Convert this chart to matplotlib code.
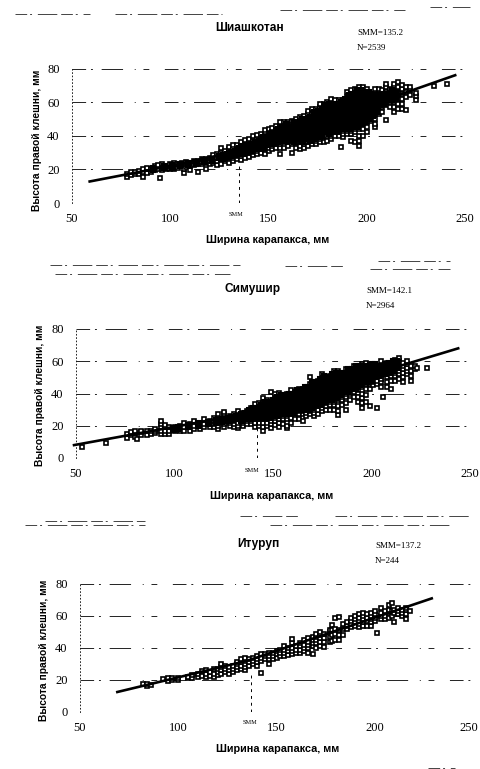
import matplotlib
matplotlib.use("Agg")
import matplotlib.pyplot as plt
from matplotlib.lines import Line2D
from matplotlib.transforms import ScaledTranslation

W, H = 480, 769

tick_x = [50, 100, 150, 200, 250]
tick_y = [0, 20, 40, 60, 80]
xlabel_text = "Ширина карапакса, мм"
ylabel_text = "Высота правой клешни, мм"

# values: (carapace width, [claw heights at that width])
shia_cols = [
    (78, [15.5, 17]), (80, [16.5, 18.5]), (82, [17, 18.5]), (84, [17.5, 19]),
    (86, [15.5, 18.5, 20]), (88, [18, 20, 21]), (90, [18.5, 20.5]), (92, [19.5, 21, 22]),
    (94, [20, 22.5]), (95, [15]), (96, [19.5, 21, 23]), (98, [20, 22]), (100, [20.5, 22, 23]),
    (102, [20, 21.5, 23.5]), (104, [21, 23]), (106, [22, 24]), (107, [18, 20]),
    (108, [21.5, 23, 24.5]), (110, [19.5, 22, 24]), (112, [22.5, 25]), (114, [18.5, 23, 25]),
    (116, [23, 24.5, 26]), (118, [20, 24, 26]), (120, [23, 25, 27]), (122, [24, 26, 28.5]),
    (124, [22.5, 25, 27, 29]), (126, [23, 26, 28, 30, 32.5]), (128, [25, 27, 29, 31]),
    (130, [24, 26.5, 28, 30, 32, 33.5]), (132, [25, 27, 29, 31, 33, 34.5]),
    (134, [26, 28, 30, 32, 34.5]), (136, [25.5, 28, 30, 32, 34, 36]),
    (138, [27, 29, 31, 33, 35, 37.5]), (140, [27.5, 29.5, 32, 34, 36, 38]),
    (142, [28.5, 30.5, 33, 35, 37, 40]), (144, [29, 31, 33, 35.5, 38, 40.5]),
    (146, [30, 32, 34, 36, 38, 41]), (148, [29, 32, 34, 36, 38, 40, 43.5]),
    (150, [31, 33, 35, 37, 39, 41, 44]), (152, [32, 34, 36, 38, 40, 42, 44.5]),
    (154, [33, 35, 37, 39, 41, 43, 46]), (156, [29, 33, 35, 37, 39, 41, 43, 45, 48]),
    (158, [33, 36, 38, 40, 42, 44, 46, 48]), (160, [34, 36, 38, 40, 42, 44, 46, 48]),
    (162, [30, 35, 37, 39, 41, 43, 45, 47, 49]), (164, [33, 35.5, 38, 40, 42, 44, 46, 48, 50]),
    (166, [32, 34, 37, 39, 41, 43, 45, 47, 49, 51]), (168, [32.5, 35, 37, 39, 41, 43, 45, 47, 49, 52]),
    (170, [34, 36, 38, 40, 42, 44, 46, 48, 50, 53, 55]),
    (172, [35, 37, 39, 41, 43, 45, 47, 49, 51, 53, 56]),
    (174, [35, 37, 40, 42, 44, 46, 48, 50, 52, 54, 56]),
    (176, [36, 38, 40, 43, 45, 47, 49, 51, 53, 55, 57, 59]),
    (178, [36, 39, 41, 43, 45, 47, 49, 51, 53, 55, 57, 59]),
    (180, [37, 40, 42, 44, 46, 48, 50, 52, 54, 56, 58, 60]),
    (182, [38, 40, 42, 44, 46, 48, 50, 52, 54, 56, 58, 60, 62]),
    (184, [40, 42, 44, 46, 48, 50, 52, 54, 56, 58, 60, 61]),
    (186, [40, 42, 44, 46, 48, 50, 52, 54, 56, 58, 60, 61]),
    (187, [33.5]),
    (188, [39, 41, 43, 45, 47, 49, 51, 53, 55, 57, 59, 61]),
    (190, [41, 43, 45, 47, 49, 51, 53, 55, 57, 59, 61, 63, 66]),
    (192, [37, 41, 43, 46, 48, 50, 52, 54, 56, 58, 60, 62, 64, 67]),
    (194, [36, 42, 44, 46, 48, 50, 52, 54, 56, 58, 60, 62, 64, 66, 68]),
    (196, [34, 37, 40, 44, 46, 48, 50, 52, 54, 56, 58, 60, 62, 64, 66, 69]),
    (198, [40, 44, 47, 49, 51, 53, 55, 57, 59, 61, 63, 65, 67, 69]),
    (200, [42, 45, 48, 50, 52, 54, 56, 58, 60, 62, 64, 66, 68]),
    (202, [49, 51, 53, 55, 57, 59, 61, 63, 65]),
    (204, [45, 47, 50, 53, 55, 57, 59, 61, 63, 65, 68]),
    (206, [53, 55, 57, 59, 61, 63, 65, 68]),
    (208, [54, 57, 59, 61, 63, 65, 67]),
    (210, [49.5, 58, 60, 62, 64, 66, 69, 71]),
    (212, [57, 60, 62, 64, 66, 68]),
    (214, [54, 57, 60, 63, 65, 67, 69, 71]),
    (216, [56, 59, 62, 64, 66, 69, 72]),
    (218, [56, 59, 62, 65, 68, 70]),
    (220, [55.5, 63, 66, 69]),
    (222, [64, 67, 69]),
    (225, [61.5, 63.5, 65.5]),
    (234, [69.5]), (241, [71]),
]
# second reading of the dense core, between the columns above
shia_core = [
    (91, [19.5, 20.8]), (97, [20.6, 22]), (101, [21, 22.4]), (105, [21.8, 23.2]), (109, [22.5, 23.8]),
    (113, [23.4, 24.6]), (117, [24.2, 25.4]), (121, [25, 26.4]), (125, [26.6, 27.8]), (127, [26, 28.3]),
    (129, [27.6, 29.4]), (131, [28, 30.4]), (133, [28.7, 31.2]), (135, [29, 31, 33]), (137, [30, 32, 34]),
    (139, [30.5, 32.6, 34.4]), (141, [31, 33, 35]), (143, [32, 34, 36]), (145, [33, 35, 37]),
    (147, [33, 35, 37, 39]), (149, [34.4, 36.5, 38.6]), (151, [35, 37, 39, 41]), (153, [35.5, 37.5, 39.5, 41.5]),
    (155, [36, 38, 40, 42, 44]), (157, [37, 39, 41, 43, 45]), (159, [37, 39, 41, 43, 45, 47]),
    (161, [37.5, 39.5, 41.5, 43.5, 45.5]), (163, [36, 38, 40, 42, 44, 46, 48]), (165, [38, 40, 42, 44, 46, 48]),
    (167, [36, 38, 40, 42, 44, 46, 48, 50]), (169, [38, 40, 42, 44, 46, 48, 50]),
    (171, [37, 39, 41, 43, 45, 47, 49, 51]), (173, [38, 40, 42, 44, 46, 48, 50, 52, 54]),
    (175, [39, 41, 43, 45, 47, 49, 51, 53, 55]), (177, [40, 42, 44, 46, 48, 50, 52, 54, 56]),
    (179, [42, 44, 46, 48, 50, 52, 54, 56, 58]), (181, [41, 43, 45, 47, 49, 51, 53, 55, 57, 59]),
    (183, [43, 45, 47, 49, 51, 53, 55, 57, 59]), (185, [43, 45, 47, 49, 51, 53, 55, 57, 59]),
    (187, [44, 46, 48, 50, 52, 54, 56, 58, 60]), (189, [44, 46, 48, 50, 52, 54, 56, 58, 60, 62]),
    (191, [44, 46, 48, 50, 52, 54, 56, 58, 60, 62, 64]), (193, [45, 47, 49, 51, 53, 55, 57, 59, 61, 63, 65]),
    (195, [45, 47, 49, 51, 53, 55, 57, 59, 61, 63, 65, 67]), (197, [47, 49, 51, 53, 55, 57, 59, 61, 63, 65, 67]),
    (199, [48, 50, 52, 54, 56, 58, 60, 62, 64, 66]), (201, [50, 52, 54, 56, 58, 60, 62, 64, 66]),
    (203, [52, 54, 56, 58, 60, 62, 64]), (205, [54, 56, 58, 60, 62, 64]), (207, [58, 60, 62, 64]),
    (209, [59, 61, 63, 65]), (211, [61, 63, 65]), (213, [61, 63, 65, 67]), (215, [62, 64, 66]),
]
shia_line_x = [59, 100, 135, 245]
shia_line_y = [12.8, 22, 31, 76]

sim_cols = [
    (53, [7]), (65, [9.5]), (76, [12.5, 15]), (78, [14.5, 16]), (80, [13, 15.5, 17]),
    (81, [11.5]), (83, [14, 16, 17]), (86, [14.5, 16.5]), (88, [15, 17]), (90, [15.5, 17, 18]),
    (93, [15, 17, 19, 21, 23]), (95, [15, 17, 19, 20.5]), (97, [15, 17, 19]), (100, [16.5, 18, 19.5]),
    (103, [17, 18.5, 20]), (105, [17, 19, 22]), (108, [17, 19, 21]), (110, [18, 20, 23]),
    (113, [18, 20, 22]), (115, [19, 21, 24]), (118, [19.5, 21, 23]), (120, [19, 21, 23, 25]),
    (122, [18, 20, 22, 24, 27]), (125, [19, 21, 23, 25, 27, 28.5]), (128, [20, 22, 24, 26]),
    (130, [19, 21, 23, 25, 27]), (132, [18.5, 20, 22, 24, 26, 29]), (135, [20, 22, 24, 26, 28]),
    (137, [21, 23, 25, 27, 29]), (139, [21, 23, 25, 27, 29, 31]), (141, [19, 22, 24, 26, 28, 30, 33.5]),
    (143, [20, 22, 24, 26, 28, 30, 32, 34]), (145, [16.5, 19, 22, 24, 26, 28, 30, 32, 34, 37]),
    (147, [20, 22, 24, 26, 28, 30, 32, 34, 36]), (149, [18.5, 21, 23, 25, 27, 29, 31, 33, 35, 41]),
    (151, [20.5, 23, 25, 27, 29, 31, 33, 35, 37, 40]), (153, [19, 22, 24, 26, 28, 30, 32, 34, 36, 38, 40.5]),
    (155, [21, 24, 26, 28, 30, 32, 34, 36, 38]), (157, [18.5, 20, 24, 26, 28, 30, 32, 34, 36, 38, 40]),
    (159, [22, 25, 27, 29, 31, 33, 35, 37, 39, 42]), (161, [24, 27, 29, 31, 33, 35, 37, 39, 41]),
    (163, [24, 27, 29, 31, 33, 35, 37, 39, 41, 42.5]), (165, [23, 27, 29, 31, 33, 35, 37, 39, 41, 43]),
    (167, [26, 28, 30, 32, 34, 36, 38, 40, 42, 44]), (169, [27, 29, 31, 33, 35, 37, 39, 41, 43, 46, 50]),
    (171, [26, 28, 30, 32, 34, 36, 38, 40, 42, 44, 46]), (173, [27, 30, 32, 34, 36, 38, 40, 42, 44, 46, 48]),
    (175, [29, 31, 33, 35, 37, 39, 41, 43, 45, 47, 49, 52]), (177, [30, 32, 34, 36, 38, 40, 42, 44, 46, 48, 50]),
    (179, [30, 33, 35, 37, 39, 41, 43, 45, 47, 49, 51]), (181, [30, 33, 35, 37, 39, 41, 43, 45, 47, 49, 51, 54]),
    (183, [26.5, 29, 32, 36, 38, 40, 42, 44, 46, 48, 50, 52, 54]), (185, [33, 36, 38, 40, 42, 44, 46, 48, 50, 52]),
    (187, [30, 34, 38, 40, 42, 44, 46, 48, 50, 52, 55]), (189, [36, 40, 42, 44, 46, 48, 50, 52, 54]),
    (191, [38, 41, 43, 45, 47, 49, 51, 53, 55, 57]), (193, [35, 38, 42, 44, 46, 48, 50, 52, 54, 56]),
    (195, [31, 34, 37, 40, 44, 46, 48, 50, 52, 54, 56, 58]), (197, [35, 39, 43, 46, 48, 50, 52, 54, 56, 59]),
    (199, [32, 43, 46, 48, 50, 52, 54, 56, 58]), (201, [45, 47, 49, 51, 53, 55, 57]),
    (203, [31, 46, 48, 50, 52, 54, 56]), (205, [44, 47, 49, 51, 53, 55, 57, 60]),
    (206, [38]), (208, [44, 47, 50, 52, 54, 56, 59]), (210, [43, 48, 51, 53, 55, 57, 59]),
    (212, [48, 51, 53, 55, 57, 59, 61]), (214, [49, 52, 54, 56, 58, 60, 62]),
    (216, [47, 50, 53, 55, 57, 59]), (218, [52, 54, 56, 58, 60]), (220, [48, 51, 54, 57]),
    (222, [55, 57]), (223, [56]), (228, [56]),
]
sim_core = [
    (99, [17.5, 18.8]), (102, [18.2, 19.4]), (107, [19, 20.2]), (112, [20, 21.4]), (117, [21, 22.2]),
    (121, [22, 23.5]), (124, [22.5, 24.4]), (127, [23, 25]), (129, [23.4, 25.2]), (131, [24, 26]),
    (134, [23, 25, 27]), (136, [24, 26, 28]), (138, [24, 26, 28, 30]), (140, [25, 27, 29, 31]),
    (142, [25, 27, 29, 31]), (144, [25, 27, 29, 31, 33]), (146, [25, 27, 29, 31, 33, 35]),
    (148, [25, 27, 29, 31, 33, 35]), (150, [26, 28, 30, 32, 34, 36]), (152, [26, 28, 30, 32, 34, 36, 38]),
    (154, [27, 29, 31, 33, 35, 37, 39]), (156, [27, 29, 31, 33, 35, 37, 39]), (158, [28, 30, 32, 34, 36, 38, 40]),
    (160, [28, 30, 32, 34, 36, 38, 40]), (162, [30, 32, 34, 36, 38, 40, 42]), (164, [30, 32, 34, 36, 38, 40, 42]),
    (166, [30, 32, 34, 36, 38, 40, 42, 44]), (168, [30, 32, 34, 36, 38, 40, 42, 44]),
    (170, [31, 33, 35, 37, 39, 41, 43, 45, 47]), (172, [33, 35, 37, 39, 41, 43, 45, 47]),
    (174, [33, 35, 37, 39, 41, 43, 45, 47, 49]), (176, [35, 37, 39, 41, 43, 45, 47, 49, 51]),
    (178, [36, 38, 40, 42, 44, 46, 48, 50]), (180, [36, 38, 40, 42, 44, 46, 48, 50, 52]),
    (182, [37, 39, 41, 43, 45, 47, 49, 51, 53]), (184, [39, 41, 43, 45, 47, 49, 51, 53]),
    (186, [41, 43, 45, 47, 49, 51, 53]), (188, [41, 43, 45, 47, 49, 51, 53, 55]),
    (190, [43, 45, 47, 49, 51, 53, 55]), (192, [43, 45, 47, 49, 51, 53, 55, 57]),
    (194, [45, 47, 49, 51, 53, 55, 57]), (196, [47, 49, 51, 53, 55, 57]), (198, [47, 49, 51, 53, 55, 57]),
    (200, [48, 50, 52, 54, 56, 58]), (202, [50, 52, 54, 56, 58]), (204, [51, 53, 55, 57]),
    (207, [52, 54, 56, 58]), (209, [53, 55, 57, 59]), (211, [54, 56, 58, 60]), (213, [56, 58, 60]),
]
sim_line_x = [49, 130, 244]
sim_line_y = [8, 26, 68]

itu_cols = [
    (82, [17.5]), (84, [16.5, 17.5]), (86, [17]), (92, [20.5]), (95, [19.5, 21]), (97, [20, 21]),
    (100, [20, 21]), (105, [21, 22]), (107, [21.5, 23]), (110, [22, 24]), (112, [22.5, 25.5]),
    (114, [22, 24, 26]), (116, [22.5, 25]), (118, [22, 24, 27]), (120, [23, 25, 27]),
    (122, [24, 26, 28, 30]), (124, [25, 27, 29]), (126, [23.5, 26, 28]), (128, [25, 27, 29]),
    (130, [26, 28, 30, 31]), (132, [27, 29, 31, 33]), (134, [26, 28, 30, 32, 33.5]),
    (136, [29, 31, 33]), (138, [30, 32, 33.5]), (140, [29, 31, 33, 35]), (142, [24.5, 32, 34, 36]),
    (144, [33, 35, 36]), (146, [30, 33, 35, 37]), (148, [33, 35, 37]), (150, [34, 36, 38]),
    (152, [35, 37, 39]), (154, [35, 37, 39, 41]), (156, [35.5, 38, 40]), (158, [36, 38, 40, 43, 45.5]),
    (160, [37, 39, 41]), (162, [37, 39, 41, 43]), (164, [38, 40, 42, 45]), (166, [37, 40, 42, 44, 46.5]),
    (168.5, [36.5, 41, 43, 45, 47]), (170, [40, 43, 45, 47, 49]), (172, [41, 44, 46, 48, 50]),
    (174, [40.5, 44, 46, 49]), (177, [44, 47, 50, 51]), (178, [44.5, 48, 51, 54.5]),
    (180, [45, 49, 52, 59]), (182, [45, 48, 51, 59.5]), (184, [48, 52, 55]), (186, [52, 54, 56]),
    (188, [53, 55, 57, 59]), (190, [54, 56, 58, 60]), (192, [53, 55, 57, 59, 61]),
    (194, [53.5, 56, 58, 60, 62]), (196, [54, 57, 59, 61]), (198, [54, 56, 58, 60, 62]),
    (200, [57, 59, 61, 63]), (201, [49.5]), (203, [58, 60, 62, 65]), (205, [58, 60, 63]),
    (207, [59, 62, 64, 67]), (209, [60, 63, 68]), (210, [56, 62, 64]), (212, [61, 63, 65]),
    (214, [60, 62, 64]), (216, [58, 61, 64, 65]), (218, [63]),
]
itu_core = []
itu_line_x = [69, 135, 229]
itu_line_y = [12.5, 32, 71]

panels = [
    dict(cols=shia_cols, core=shia_core, lx=shia_line_x, ly=shia_line_y, title="Шиашкотан", smm=135.2,
         note1="SMM=135.2", note2="N=2539", box=(72, 465, 203, 68.5),
         title_xy=(250, 28), note_xy=(357, 33), xlab_xy=(268, 240), ylab_xy=(37, 140), smm_xy=(236, 215)),
    dict(cols=sim_cols, core=sim_core, lx=sim_line_x, ly=sim_line_y, title="Симушир", smm=142.1,
         note1="SMM=142.1", note2="N=2964", box=(76, 470, 458, 329),
         title_xy=(253, 289), note_xy=(366, 291), xlab_xy=(272, 496), ylab_xy=(40, 395), smm_xy=(252, 470)),
    dict(cols=itu_cols, core=itu_core, lx=itu_line_x, ly=itu_line_y, title="Итуруп", smm=137.2,
         note1="SMM=137.2", note2="N=244", box=(80, 473, 712, 584),
         title_xy=(258, 544), note_xy=(375, 546), xlab_xy=(278, 749), ylab_xy=(44, 650), smm_xy=(250, 723)),
]

# photocopy streaks between the panels: (y, x start, x end)
streaks = [
    (14, 15, 90), (14, 115, 222), (10, 280, 405), (7, 430, 470),
    (265, 50, 240), (266, 285, 345), (261, 378, 450), (274, 55, 230), (269, 370, 450),
    (521, 45, 145), (516, 240, 300), (516, 335, 470), (525, 25, 145), (525, 270, 450), (768, 428, 455),
]

plt.rcParams["font.family"] = ["Liberation Serif", "DejaVu Serif"]
fig = plt.figure(figsize=(W / 100, H / 100), dpi=100)

broken = (0, (14, 5, 2, 9, 22, 12, 1, 8, 6, 16))


def ftext(xy, s, **kw):
    fig.text(xy[0] / W, 1 - xy[1] / H, s, ha=kw.pop("ha", "center"), va="center", **kw)


def flatten(cols):
    xs, ys = [], []
    for x, vals in cols:
        for v in vals:
            xs.append(x)
            ys.append(v)
    return xs, ys


for p in panels:
    left, right, bottom, top = p["box"]
    ax = fig.add_axes([left / W, 1 - bottom / H, (right - left) / W, (bottom - top) / H])
    ax.set_xlim(50, 250)
    ax.set_ylim(0, 80)
    for side in ["top", "right", "bottom"]:
        ax.spines[side].set_visible(False)
    ax.spines["left"].set_linewidth(0.6)
    ax.spines["left"].set_linestyle((0, (1, 3)))
    ax.set_xticks(tick_x)
    ax.set_yticks(tick_y)
    ax.tick_params(axis="x", length=0, pad=7, labelsize=9)
    ax.tick_params(axis="y", length=0, pad=9, labelsize=9)
    ax.grid(axis="y", color="#222222", linewidth=0.7, linestyle=broken)
    ax.set_axisbelow(True)

    # pull the last x label in a little so it stays inside the page on the lowest panel
    if right > 470:
        lab = ax.get_xticklabels()[-1]
        lab.set_transform(lab.get_transform() + ScaledTranslation(-(right - 469) / 100, 0, fig.dpi_scale_trans))

    xs, ys = flatten(p["cols"])
    ax.plot(xs, ys, linestyle="none", marker="s", ms=2.6, mew=1.2, mfc="white", mec="black", clip_on=False)
    xs, ys = flatten(p["core"])
    # the core reading is drawn with a thick edge so overlapping squares close up, as on the scan
    ax.plot(xs, ys, linestyle="none", marker="s", ms=2.4, mew=1.5, mfc="black", mec="black", clip_on=False)
    ax.plot(p["lx"], p["ly"], color="black", linewidth=1.9, clip_on=False)
    ax.plot([p["smm"], p["smm"]], [0, 24], color="black", linewidth=0.7, linestyle=(0, (3, 4)))

    ftext(p["title_xy"], p["title"], fontsize=8.6, fontweight="bold", family=["Liberation Sans", "DejaVu Sans"])
    ftext(p["note_xy"], p["note1"], fontsize=6.5, ha="left")
    ftext((p["note_xy"][0], p["note_xy"][1] + 15), p["note2"], fontsize=6.5, ha="left")
    ftext(p["xlab_xy"], xlabel_text, fontsize=7.8, fontweight="bold", family=["Liberation Sans", "DejaVu Sans"])
    ftext(p["ylab_xy"], ylabel_text, fontsize=7.4, fontweight="bold", rotation=90,
          family=["Liberation Sans", "DejaVu Sans"])
    ftext(p["smm_xy"], "SMM", fontsize=4.5)

for y, x0, x1 in streaks:
    fig.add_artist(Line2D([x0 / W, x1 / W], [1 - y / H, 1 - y / H], color="#444444", linewidth=0.7,
                          linestyle=(0, (12, 3, 2, 6, 20, 4))))

fig.savefig("out.png", dpi=100)
